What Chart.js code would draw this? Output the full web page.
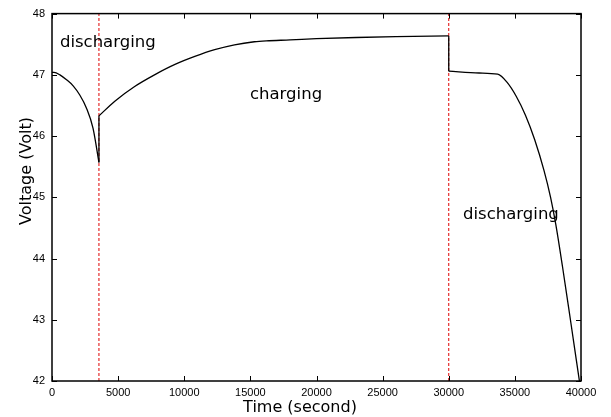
<!DOCTYPE html>
<html>
<head>
<meta charset="utf-8">
<title>Voltage vs time</title>
<script src="https://cdn.jsdelivr.net/npm/chart.js@4"></script>
<style>
    html, body { margin: 0; padding: 0; background: #ffffff; }
    #chart { display: block; }
</style>
</head>
<body>
<canvas id="chart" width="611" height="417"></canvas>
<script>
// Battery voltage over time, one pair of arrays per phase
const discharge1Time = [0, 150, 600, 1100, 1600, 2100, 2600, 3100, 3550];
const discharge1Volt = [47.04, 47.04, 47.00, 46.92, 46.82, 46.67, 46.46, 46.13, 45.57];

const chargeTime = [3550, 4750, 6250, 7750, 9300, 10800, 12300, 13800, 15300, 16200, 18000, 20000, 23000, 26000, 30000];
const chargeVolt = [46.33, 46.57, 46.81, 47.00, 47.17, 47.30, 47.41, 47.49, 47.54, 47.555, 47.57, 47.59, 47.61, 47.625, 47.635];

const discharge2Time = [30000, 32300, 33700, 34400, 35100, 35800, 36500, 37200, 37700, 38100, 38600, 39200, 39880];
const discharge2Volt = [47.06, 47.03, 47.01, 46.88, 46.65, 46.34, 45.94, 45.44, 45.00, 44.55, 43.87, 43.00, 42.00];

// Phase switch times (dashed markers)
const switchTimes = [3550, 30000];

// Phase labels, placed in data units
const phaseLabels = ['discharging', 'charging', 'discharging'];
const phaseLabelTime = [600, 14970, 31080];
const phaseLabelVolt = [47.45, 46.60, 44.65];

const xTicks = [0, 5000, 10000, 15000, 20000, 25000, 30000, 35000, 40000];
const yTicks = [42, 43, 44, 45, 46, 47, 48];

function toPoints(ts, vs) {
    return ts.map((t, i) => ({ x: t, y: vs[i] }));
}

function curveSet(points, smooth) {
    return {
        data: points,
        borderColor: '#000000',
        borderWidth: 1.3,
        pointRadius: 0,
        showLine: true,
        cubicInterpolationMode: smooth ? 'monotone' : 'default',
        tension: 0,
        order: 1
    };
}

const phases = [
    toPoints(discharge1Time, discharge1Volt),
    toPoints(chargeTime, chargeVolt),
    toPoints(discharge2Time, discharge2Volt)
];

// vertical jumps where one phase hands over to the next
const jumps = [
    [phases[0][phases[0].length - 1], phases[1][0]],
    [phases[1][phases[1].length - 1], phases[2][0]]
];

const markerSets = switchTimes.map(t => ({
    data: [{ x: t, y: yTicks[0] }, { x: t, y: yTicks[yTicks.length - 1] }],
    borderColor: '#e00000',
    borderWidth: 1,
    borderDash: [3, 2],
    pointRadius: 0,
    showLine: true,
    order: 2
}));

// Frame, inward ticks, annotations and axis titles
const framePlugin = {
    id: 'frame',
    afterDatasetsDraw(chart) {
        const ctx = chart.ctx;
        const a = chart.chartArea;
        const xs = chart.scales.x;
        const ys = chart.scales.y;
        const len = 5;

        ctx.save();
        ctx.strokeStyle = '#000000';
        ctx.lineWidth = 1;
        ctx.beginPath();
        xTicks.forEach(v => {
            const px = Math.round(xs.getPixelForValue(v)) + 0.5;
            ctx.moveTo(px, a.bottom); ctx.lineTo(px, a.bottom - len);
            ctx.moveTo(px, a.top); ctx.lineTo(px, a.top + len);
        });
        yTicks.forEach(v => {
            const py = Math.round(ys.getPixelForValue(v)) + 0.5;
            ctx.moveTo(a.left, py); ctx.lineTo(a.left + len, py);
            ctx.moveTo(a.right, py); ctx.lineTo(a.right - len, py);
        });
        ctx.stroke();

        ctx.lineWidth = 1.5;
        ctx.strokeRect(a.left, a.top, a.right - a.left, a.bottom - a.top);

        ctx.fillStyle = '#000000';
        ctx.font = '16.5px "DejaVu Sans"';
        ctx.textAlign = 'left';
        ctx.textBaseline = 'alphabetic';
        phaseLabels.forEach((txt, i) => {
            ctx.fillText(txt, xs.getPixelForValue(phaseLabelTime[i]), ys.getPixelForValue(phaseLabelVolt[i]));
        });

        ctx.font = '16px "DejaVu Sans"';
        ctx.textAlign = 'center';
        ctx.fillText('Time (second)', 300, 412);

        ctx.translate(31, 171);
        ctx.rotate(-Math.PI / 2);
        ctx.fillText('Voltage (Volt)', 0, 0);
        ctx.restore();
    }
};

new Chart(document.getElementById('chart'), {
    type: 'scatter',
    data: {
        datasets: phases.map(p => curveSet(p, true))
            .concat(jumps.map(j => curveSet(j, false)))
            .concat(markerSets)
    },
    options: {
        responsive: false,
        animation: false,
        layout: { padding: { top: 12, right: 30, left: 0, bottom: 0 } },
        plugins: {
            legend: { display: false },
            tooltip: { enabled: false }
        },
        scales: {
            x: {
                type: 'linear',
                min: 0,
                max: 40000,
                afterFit: scale => { scale.height = 36; },
                afterBuildTicks: scale => { scale.ticks = xTicks.map(v => ({ value: v })); },
                grid: { display: false, drawTicks: false },
                border: { display: false },
                ticks: {
                    padding: 5,
                    color: '#000000',
                    maxRotation: 0,
                    font: { family: '"Liberation Sans", Arial, sans-serif', size: 11 },
                    callback: v => String(v)
                }
            },
            y: {
                type: 'linear',
                min: 42,
                max: 48,
                afterFit: scale => { scale.width = 52; },
                afterBuildTicks: scale => { scale.ticks = yTicks.map(v => ({ value: v })); },
                grid: { display: false, drawTicks: false },
                border: { display: false },
                ticks: {
                    padding: 7,
                    color: '#000000',
                    font: { family: '"Liberation Sans", Arial, sans-serif', size: 11 },
                    callback: v => String(v)
                }
            }
        }
    },
    plugins: [framePlugin]
});
</script>
</body>
</html>
